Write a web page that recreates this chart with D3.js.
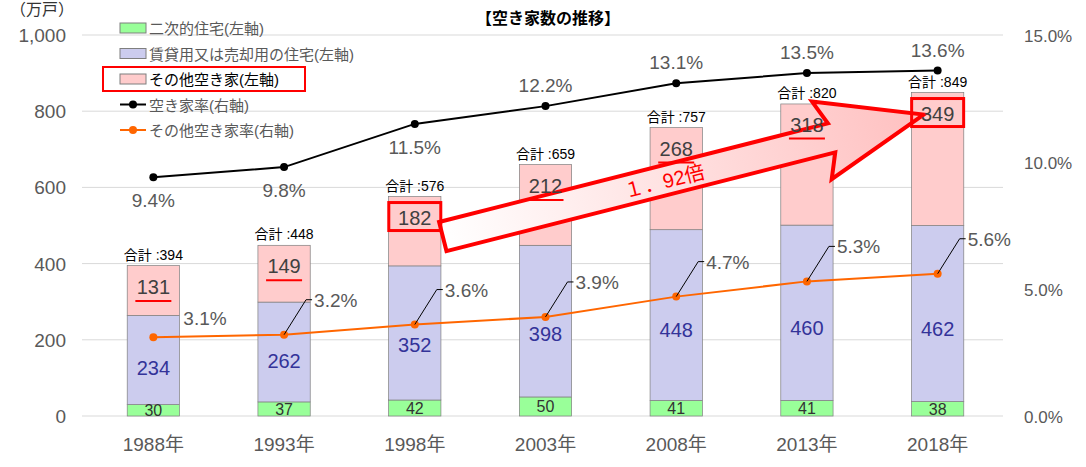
<!DOCTYPE html>
<meta charset="utf-8">
<style>
body { margin: 0; background: #fff; font-family: "Liberation Sans", "Noto Sans CJK JP", sans-serif; }
</style>
<svg width="1086" height="467"></svg>
<script src="https://d3js.org/d3.v7.min.js"></script>
<script>

var years = ["1988年", "1993年", "1998年", "2003年", "2008年", "2013年", "2018年"];
var secondHome = [30, 37, 42, 50, 41, 41, 38];
var rentSale = [234, 262, 352, 398, 448, 460, 462];
var otherVacant = [131, 149, 182, 212, 268, 318, 349];
var totals = [394, 448, 576, 659, 757, 820, 849];
var vacancyRate = [9.4, 9.8, 11.5, 12.2, 13.1, 13.5, 13.6];
var otherRate = [3.1, 3.2, 3.6, 3.9, 4.7, 5.3, 5.6];
var leftTicks = [0, 200, 400, 600, 800, 1000];
var rightTicks = [0, 5, 10, 15];

var svg = d3.select("svg");
var x = d3.scaleBand().domain(years).range([88, 1003]).paddingInner(0.6).paddingOuter(0.3);
var y = d3.scaleLinear().domain([0, 1000]).range([416, 35]);
var y2 = d3.scaleLinear().domain([0, 15]).range([416, 35]);
var cx = function(i) { return x(years[i]) + x.bandwidth() / 2; };
var grey = "#595959";

// gridlines + axes
svg.append("g").selectAll("line").data(leftTicks).enter().append("line")
	.attr("x1", 82).attr("x2", 1003)
	.attr("y1", function(d) { return y(d); }).attr("y2", function(d) { return y(d); })
	.style("stroke", "#d9d9d9");
svg.append("g").selectAll("text").data(leftTicks).enter().append("text")
	.attr("x", 66).attr("y", function(d) { return y(d) + 7; })
	.attr("text-anchor", "end").style("font-size", "19px").style("fill", grey)
	.text(d3.format(","));
svg.append("g").selectAll("text").data(rightTicks).enter().append("text")
	.attr("x", 1024).attr("y", function(d) { return y2(d) + 7; })
	.style("font-size", "17px").style("fill", grey)
	.text(function(d) { return d.toFixed(1) + "%"; });
svg.append("text").attr("x", 10).attr("y", 15).style("font-size", "16px").style("fill", "#333").text("（万戸）");
svg.append("g").selectAll("text").data(years).enter().append("text")
	.attr("x", function(d, i) { return cx(i); }).attr("y", 451)
	.attr("text-anchor", "middle").style("font-size", "19px").style("fill", grey).text(function(d) { return d; });
svg.append("text").attr("x", 548).attr("y", 24).attr("text-anchor", "middle")
	.style("font-size", "16px").style("font-weight", "bold").text("【空き家数の推移】");

// stacked bars
var series = [
	{ vals: secondHome, fill: "#99ff99" },
	{ vals: rentSale, fill: "#ccccee" },
	{ vals: otherVacant, fill: "#ffcccc" }
];
var base = years.map(function() { return 0; });
series.forEach(function(s) {
	svg.append("g").selectAll("rect").data(s.vals).enter().append("rect")
		.attr("x", function(d, i) { return x(years[i]); })
		.attr("width", x.bandwidth())
		.attr("y", function(d, i) { return y(base[i] + d); })
		.attr("height", function(d) { return y(0) - y(d); })
		.style("fill", s.fill).style("stroke", "#7f7f7f").style("stroke-width", 0.7);
	base = base.map(function(b, i) { return b + s.vals[i]; });
});

// arrow annotation (under the labels)
var oy = function(d, i) { return y(totals[i]) + 28; };
var ax0 = cx(2) + 28, ay0 = oy(182, 2) + 12, ax1 = cx(6) - 14, ay1 = oy(349, 6) - 6;
var ang = Math.atan2(ay1 - ay0, ax1 - ax0) * 180 / Math.PI;
var len = Math.hypot(ax1 - ax0, ay1 - ay0);
var grad = svg.append("defs").append("linearGradient").attr("id", "ag");
grad.append("stop").attr("offset", "0").attr("stop-color", "#ffffff");
grad.append("stop").attr("offset", "1").attr("stop-color", "#ffc0c0");
var ag = svg.append("g").attr("transform", "translate(" + ax0 + "," + ay0 + ") rotate(" + ang + ")");
ag.append("path")
	.attr("d", d3.line()([[0, -15], [len - 95, -15], [len - 105, -40], [len, 0], [len - 105, 40], [len - 95, 15], [0, 15]]) + "Z")
	.style("fill", "url(#ag)").style("stroke", "#ff0000").style("stroke-width", 4).style("stroke-linejoin", "miter");
ag.append("text").attr("x", len * 0.46).attr("y", 8).attr("text-anchor", "middle")
	.style("font-size", "20px").style("fill", "#ff0000").text("１．92倍");

// bar labels
svg.append("g").selectAll("text").data(secondHome).enter().append("text")
	.attr("x", function(d, i) { return cx(i); }).attr("y", function(d) { return y(d / 2) + 6; })
	.attr("text-anchor", "middle").style("font-size", "16px").style("fill", "#333").text(function(d) { return d; });
svg.append("g").selectAll("text").data(rentSale).enter().append("text")
	.attr("x", function(d, i) { return cx(i); }).attr("y", function(d, i) { return y(secondHome[i] + d * 0.42) + 8; })
	.attr("text-anchor", "middle").style("font-size", "20px").style("fill", "#333399").text(function(d) { return d; });
svg.append("g").selectAll("text").data(otherVacant).enter().append("text")
	.attr("x", function(d, i) { return cx(i); }).attr("y", oy)
	.attr("text-anchor", "middle").style("font-size", "20px").style("fill", "#404040").text(function(d) { return d; });
otherVacant.forEach(function(d, i) {
	if (i === 2 || i === 6) {
		svg.append("rect").attr("x", cx(i) - 26).attr("y", oy(d, i) - 22).attr("width", 52).attr("height", 28)
			.style("fill", "none").style("stroke", "#ff0000").style("stroke-width", 3);
	} else {
		svg.append("line").attr("x1", cx(i) - 18).attr("x2", cx(i) + 18)
			.attr("y1", oy(d, i) + 7).attr("y2", oy(d, i) + 7)
			.style("stroke", "#ff0000").style("stroke-width", 2);
	}
});
svg.append("g").selectAll("text").data(totals).enter().append("text")
	.attr("x", function(d, i) { return cx(i); }).attr("y", function(d) { return y(d) - 6; })
	.attr("text-anchor", "middle").style("font-size", "14px").text(function(d) { return "合計 :" + d; });

// lines
var line1 = d3.line().x(function(d, i) { return cx(i); }).y(function(d) { return y2(d); });
svg.append("path").datum(vacancyRate).attr("d", line1).style("fill", "none").style("stroke", "#000").style("stroke-width", 2);
svg.append("g").selectAll("circle").data(vacancyRate).enter().append("circle")
	.attr("cx", function(d, i) { return cx(i); }).attr("cy", function(d) { return y2(d); }).attr("r", 4);
svg.append("g").selectAll("text").data(vacancyRate).enter().append("text")
	.attr("x", function(d, i) { return cx(i); })
	.attr("y", function(d, i) { return i < 3 ? y2(d) + 30 : y2(d) - 14; })
	.attr("text-anchor", "middle").style("font-size", "19px").style("fill", grey)
	.text(function(d) { return d.toFixed(1) + "%"; });

svg.append("path").datum(otherRate).attr("d", line1).style("fill", "none").style("stroke", "#ff6600").style("stroke-width", 2);
svg.append("g").selectAll("circle").data(otherRate).enter().append("circle")
	.attr("cx", function(d, i) { return cx(i); }).attr("cy", function(d) { return y2(d); }).attr("r", 4).style("fill", "#ff6600");
otherRate.forEach(function(d, i) {
	var px = cx(i), py = y2(d), tx, ty;
	if (i === 0) { tx = px + 30; ty = py - 14; }
	else {
		tx = px + 30; ty = py - 30;
		svg.append("path").attr("d", d3.line()([[px, py], [px + 22, ty - 5], [px + 28, ty - 5]]))
			.style("fill", "none").style("stroke", "#000").style("stroke-width", 1);
	}
	svg.append("text").attr("x", tx).attr("y", ty + 2).style("font-size", "19px").style("fill", grey).text(d.toFixed(1) + "%");
});

// legend
var legend = [
	{ t: "二次的住宅(左軸)", fill: "#99ff99", kind: "box" },
	{ t: "賃貸用又は売却用の住宅(左軸)", fill: "#ccccee", kind: "box" },
	{ t: "その他空き家(左軸)", fill: "#ffcccc", kind: "box" },
	{ t: "空き家率(右軸)", fill: "#000", kind: "line" },
	{ t: "その他空き家率(右軸)", fill: "#ff6600", kind: "line" }
];
var lg = svg.append("g").selectAll("g").data(legend).enter().append("g")
	.attr("transform", function(d, i) { return "translate(120," + (28 + i * 25.5) + ")"; });
lg.filter(function(d) { return d.kind === "box"; }).append("rect")
	.attr("x", 0).attr("y", -5).attr("width", 26).attr("height", 10)
	.style("fill", function(d) { return d.fill; }).style("stroke", "#7f7f7f");
lg.filter(function(d) { return d.kind === "line"; }).append("line")
	.attr("x1", 0).attr("x2", 26).style("stroke", function(d) { return d.fill; }).style("stroke-width", 2);
lg.filter(function(d) { return d.kind === "line"; }).append("circle")
	.attr("cx", 13).attr("r", 4).style("fill", function(d) { return d.fill; });
lg.append("text").attr("x", 29).attr("y", 6)
	.style("font-size", "15px").style("fill", function(d, i) { return i === 2 ? "#000" : grey; })
	.text(function(d) { return d.t; });
svg.append("rect").attr("x", 103).attr("y", 67).attr("width", 202).attr("height", 24)
	.style("fill", "none").style("stroke", "#ff0000").style("stroke-width", 2);

</script>
